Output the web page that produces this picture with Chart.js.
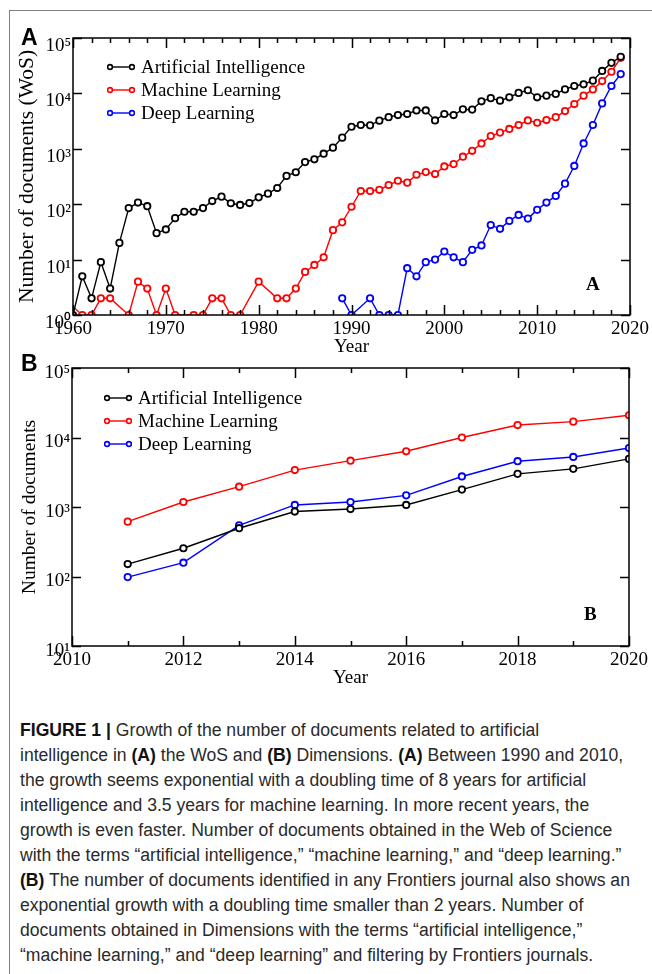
<!DOCTYPE html>
<html>
<head>
<meta charset="utf-8">
<script src="https://cdn.jsdelivr.net/npm/chart.js@4.4.1/dist/chart.umd.min.js"></script>
<style>
  body { margin: 0; background: #fff; width: 652px; height: 974px; position: relative; overflow: hidden; font-family: "Liberation Serif", "Times New Roman", serif; color: #000; }
  #frame { position: absolute; left: 9px; top: 10px; width: 700px; height: 1000px; border-left: 1.5px solid #808080; border-top: 1.5px solid #808080; }
  canvas { position: absolute; left: 0; }
  #cA { top: 0; }
  #cB { top: 340px; }
  .letter { position: absolute; font-family: "Liberation Sans", Arial, sans-serif; font-weight: bold; font-size: 23px; line-height: 23px; }
  .tag { position: absolute; font-weight: bold; font-size: 19px; line-height: 19px; }
  .row { position: absolute; height: 22px; display: flex; align-items: center; white-space: nowrap; font-size: 19px; }
  .row svg { margin-right: 6px; }
  #caption { position: absolute; left: 20px; top: 0; font-family: "Liberation Sans", Arial, sans-serif; color: #2a2a2a; }
  #caption div { position: absolute; left: 0; white-space: nowrap; line-height: 25px; }
  #caption b { color: #111; }
</style>
</head>
<body>
<div id="frame"></div>
<canvas id="cA" width="652" height="358"></canvas>
<canvas id="cB" width="652" height="350"></canvas>
<div class="letter" style="left:21px;top:26px">A</div>
<div class="letter" style="left:21px;top:352px">B</div>
<div class="tag" style="left:586px;top:274px">A</div>
<div class="tag" style="left:584px;top:604px">B</div>
<div id="legA"></div>
<div id="legB"></div>
<div id="caption">
  <div style="top:718px"><b>FIGURE 1 |</b> Growth of the number of documents related to artificial</div>
  <div style="top:743px">intelligence in <b>(A)</b> the WoS and <b>(B)</b> Dimensions. <b>(A)</b> Between 1990 and 2010,</div>
  <div style="top:768px">the growth seems exponential with a doubling time of 8 years for artificial</div>
  <div style="top:793px">intelligence and 3.5 years for machine learning. In more recent years, the</div>
  <div style="top:818px" id="refLine">growth is even faster. Number of documents obtained in the Web of Science</div>
  <div style="top:843px">with the terms “artificial intelligence,” “machine learning,” and “deep learning.”</div>
  <div style="top:868px"><b>(B)</b> The number of documents identified in any Frontiers journal also shows an</div>
  <div style="top:893px">exponential growth with a doubling time smaller than 2 years. Number of</div>
  <div style="top:918px">documents obtained in Dimensions with the terms “artificial intelligence,”</div>
  <div style="top:943px">“machine learning,” and “deep learning” and filtering by Frontiers journals.</div>
</div>
<script>
// series names and colours
const seriesNames = ["Artificial Intelligence", "Machine Learning", "Deep Learning"];
const seriesColors = ["#000000", "#ff0000", "#0000ff"];

// A: Web of Science, 1959-2019 (null = no document)
const yearsA = [1959, 1960, 1961, 1962, 1963, 1964, 1965, 1966, 1967, 1968, 1969,
  1970, 1971, 1972, 1973, 1974, 1975, 1976, 1977, 1978, 1979,
  1980, 1981, 1982, 1983, 1984, 1985, 1986, 1987, 1988, 1989,
  1990, 1991, 1992, 1993, 1994, 1995, 1996, 1997, 1998, 1999,
  2000, 2001, 2002, 2003, 2004, 2005, 2006, 2007, 2008, 2009,
  2010, 2011, 2012, 2013, 2014, 2015, 2016, 2017, 2018, 2019];
const aiA = [null, 1, 5, 2, 9, 3, 20, 85, 107, 92, 30,
  35, 56, 73, 73, 85, 114, 137, 104, 97, 105,
  133, 155, 196, 324, 377, 575, 646, 815, 1050, 1590,
  2500, 2690, 2650, 3220, 3730, 4070, 4250, 4920, 4920, 3250,
  4250, 4070, 5150, 5100, 7200, 8200, 7400, 8500, 10200, 11400,
  8500, 9100, 9800, 11800, 13600, 14600, 17000, 25400, 35600, 45900];
const mlA = [2, null, 1, 1, 2, 2, null, 1, 4, 3, 1,
  3, 1, null, 1, 1, 2, 2, 1, 1, null,
  4, null, 2, 2, 3, 6, 8, 11, 34, 47,
  90, 173, 173, 182, 222, 265, 245, 340, 380, 350,
  480, 530, 720, 920, 1250, 1700, 1960, 2280, 2690, 3250,
  2950, 3300, 3730, 4800, 6420, 9100, 11800, 16700, 24600, 43900];
const dlA = [null, null, null, null, null, null, null, null, null, null, null,
  null, null, null, null, null, null, null, null, null, null,
  null, null, null, null, null, null, null, null, null, 2,
  1, null, 2, 1, 1, 1, 7, 5, 9, 10,
  14, 11, 9, 15, 18, 42, 36, 50, 64, 55,
  79, 107, 141, 235, 490, 1250, 2690, 6600, 13600, 22300];
const xLabelsA = [1960, 1970, 1980, 1990, 2000, 2010, 2020];
const yTicksA = [1, 10, 100, 1000, 10000, 100000];

// B: Dimensions, Frontiers journals, 2011-2020
const yearsB = [2011, 2012, 2013, 2014, 2015, 2016, 2017, 2018, 2019, 2020];
const aiB = [151, 255, 495, 860, 935, 1070, 1780, 3000, 3540, 4920];
const mlB = [615, 1180, 1960, 3400, 4640, 6330, 10000, 15100, 16900, 20900];
const dlB = [98, 158, 545, 1070, 1180, 1470, 2750, 4560, 5250, 7050];
const xLabelsB = [2010, 2012, 2014, 2016, 2018, 2020];
const yTicksB = [10, 100, 1000, 10000, 100000];

const sup = ["⁰", "¹", "²", "³", "⁴", "⁵"];
const serif = "'Liberation Serif', 'Times New Roman', serif";

function everyStep(from, to, step) {
  const out = [];
  for (let v = from; v <= to; v += step) out.push(v);
  return out;
}

// frame all round + inward ticks, placed with the chart's own scales
const framePlugin = {
  id: "frame",
  afterDraw(chart, args, opts) {
    const { ctx, chartArea: a, scales: { x, y } } = chart;
    ctx.save();
    ctx.strokeStyle = "#000";
    ctx.lineWidth = 1.5;
    ctx.strokeRect(a.left, a.top, a.right - a.left, a.bottom - a.top);
    ctx.beginPath();
    opts.xMinor.forEach(v => {
      const px = Math.round(x.getPixelForValue(v)) + 0.5;
      const len = opts.xMajor.includes(v) ? 10 : 5;
      ctx.moveTo(px, a.bottom); ctx.lineTo(px, a.bottom - len);
      ctx.moveTo(px, a.top); ctx.lineTo(px, a.top + len);
    });
    opts.yMajor.forEach(v => {
      const py = Math.round(y.getPixelForValue(v)) + 0.5;
      ctx.moveTo(a.left, py); ctx.lineTo(a.left + 9, py);
      ctx.moveTo(a.right, py); ctx.lineTo(a.right - 9, py);
    });
    ctx.stroke();
    ctx.restore();
  }
};

function makeSet(i, xs, ys) {
  return {
    label: seriesNames[i],
    data: xs.map((yr, k) => ({ x: yr, y: ys[k] })),
    borderColor: seriesColors[i],
    borderWidth: 1.4,
    pointRadius: 3.2,
    pointBorderWidth: 1.8,
    pointBackgroundColor: "#fff",
    pointBorderColor: seriesColors[i],
    spanGaps: true,
    tension: 0
  };
}

function makeChart(el, p) {
  return new Chart(el, {
    type: "line",
    data: { datasets: p.sets },
    options: {
      responsive: false,
      animation: false,
      layout: { padding: p.pad },
      plugins: {
        legend: { display: false },
        tooltip: { enabled: false },
        frame: { xMajor: p.xLabels, xMinor: p.xMinor, yMajor: p.yTicks }
      },
      scales: {
        x: {
          type: "linear", min: p.xMin, max: p.xMax,
          afterBuildTicks: s => { s.ticks = p.xLabels.map(v => ({ value: v })); },
          afterFit: s => { s.height = p.xHeight; },
          ticks: { callback: v => String(v), color: "#000", padding: 3, maxRotation: 0, autoSkip: false, font: { family: serif, size: 19 } },
          grid: { display: false, drawTicks: false },
          border: { display: false },
          title: { display: true, text: "Year", color: "#000", padding: { top: 0, bottom: p.xTitlePad }, font: { family: serif, size: 19 } }
        },
        y: {
          type: "logarithmic", min: p.yTicks[0], max: p.yTicks[p.yTicks.length - 1],
          afterBuildTicks: s => { s.ticks = p.yTicks.map(v => ({ value: v })); },
          afterFit: s => { s.width = p.yWidth; },
          ticks: { callback: v => "10" + sup[Math.round(Math.log10(v))], color: "#000", padding: 2, labelOffset: p.yLabelOffset, autoSkip: false, font: { family: serif, size: 19 } },
          grid: { display: false, drawTicks: false },
          border: { display: false },
          title: { display: true, text: p.yTitle, color: "#000", padding: { top: p.yTitlePad, bottom: 0 }, font: { family: serif, size: p.yTitleSize } }
        }
      }
    },
    plugins: [framePlugin]
  });
}

makeChart(document.getElementById("cA"), {
  sets: [makeSet(0, yearsA, aiA), makeSet(1, yearsA, mlA), makeSet(2, yearsA, dlA)],
  pad: { left: 10, top: 38, right: 21, bottom: 0 },
  xMin: 1960, xMax: 2020, xLabels: xLabelsA, xMinor: everyStep(1960, 2020, 2), yTicks: yTicksA,
  xHeight: 43, yWidth: 63, xTitlePad: 0, yTitlePad: 4, yTitleSize: 21.5, yLabelOffset: 8,
  yTitle: "Number of documents (WoS)"
});

makeChart(document.getElementById("cB"), {
  sets: [makeSet(0, yearsB, aiB), makeSet(1, yearsB, mlB), makeSet(2, yearsB, dlB)],
  pad: { left: 10, top: 28, right: 23, bottom: 0 },
  xMin: 2010, xMax: 2020, xLabels: xLabelsB, xMinor: everyStep(2010, 2020, 1), yTicks: yTicksB,
  xHeight: 44, yWidth: 62, xTitlePad: 1, yTitlePad: 8, yTitleSize: 19.5, yLabelOffset: 5,
  yTitle: "Number of documents"
});

// legends: line with a circle at each end, then the name
function makeLegend(holder, left, tops) {
  seriesNames.forEach((name, i) => {
    const c = seriesColors[i];
    const row = document.createElement("div");
    row.className = "row";
    row.style.left = left + "px";
    row.style.top = (tops[i] - 11) + "px";
    row.innerHTML = '<svg width="28" height="10"><line x1="3" y1="5" x2="25" y2="5" stroke="' + c + '" stroke-width="1.4"/>' +
      '<circle cx="3" cy="5" r="2.4" fill="#fff" stroke="' + c + '" stroke-width="1.6"/>' +
      '<circle cx="25" cy="5" r="2.4" fill="#fff" stroke="' + c + '" stroke-width="1.6"/></svg><span>' + name + '</span>';
    holder.appendChild(row);
  });
}
makeLegend(document.getElementById("legA"), 107, [67, 90, 113]);
makeLegend(document.getElementById("legB"), 104, [398, 421, 444]);

// fit caption width to the reference (line 5 is ~593px wide)
const cap = document.getElementById("caption");
cap.style.fontSize = "16px";
const w = document.getElementById("refLine").scrollWidth;
cap.style.fontSize = (16 * 593 / w).toFixed(2) + "px";
</script>
</body>
</html>
